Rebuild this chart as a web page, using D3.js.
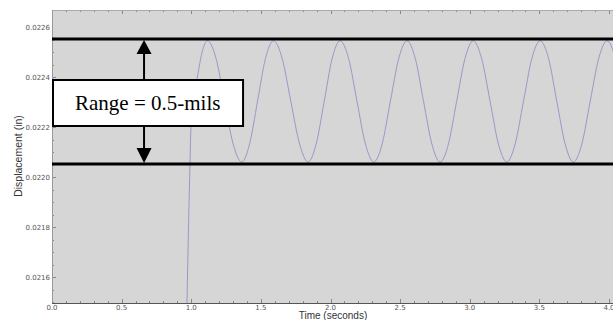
<!DOCTYPE html>
<html>
<head>
<meta charset="utf-8">
<script src="https://cdn.jsdelivr.net/npm/d3@7"></script>
<style>
  body { margin: 0; background: #fff; }
  #space { width: 613px; height: 320px; }
</style>
</head>
<body>
<div id="space"></div>
<script>
// displacement trace (time in s, displacement in in)
var time = [0.962, 0.969, 0.991, 0.998, 1.018, 1.044, 1.078,
    1.116, 1.178, 1.239, 1.301, 1.362, 1.419, 1.476, 1.533,
    1.590, 1.653, 1.715, 1.778, 1.840, 1.897, 1.955, 2.012,
    2.069, 2.130, 2.190, 2.251, 2.311, 2.371, 2.430, 2.490,
    2.549, 2.609, 2.668, 2.728, 2.787, 2.847, 2.906, 2.966,
    3.025, 3.085, 3.146, 3.206, 3.266, 3.326, 3.386, 3.446,
    3.506, 3.566, 3.625, 3.685, 3.744, 3.805, 3.865, 3.926,
    3.986, 4.046, 4.107];
var disp = [0.02130, 0.021496, 0.022056, 0.02220, 0.02232, 0.02240, 0.02250,
    0.022545, 0.022474, 0.022303, 0.022132, 0.022060, 0.022132, 0.022303, 0.022474,
    0.022545, 0.022474, 0.022303, 0.022132, 0.022060, 0.022132, 0.022303, 0.022474,
    0.022545, 0.022474, 0.022303, 0.022132, 0.022060, 0.022132, 0.022303, 0.022474,
    0.022545, 0.022474, 0.022303, 0.022132, 0.022060, 0.022132, 0.022303, 0.022474,
    0.022545, 0.022474, 0.022303, 0.022132, 0.022060, 0.022132, 0.022303, 0.022474,
    0.022545, 0.022474, 0.022303, 0.022132, 0.022060, 0.022132, 0.022303, 0.022474,
    0.022545, 0.022474, 0.022303];

var xTicks = [0.0, 0.5, 1.0, 1.5, 2.0, 2.5, 3.0, 3.5, 4.0];
var yTicks = [0.0216, 0.0218, 0.0220, 0.0222, 0.0224, 0.0226];

// range band lines and annotation
var rangeLines = [0.022552, 0.022052];
var rangeLabel = "Range = 0.5-mils";
var arrowTime = 0.661;
var boxTime = [0.0, 1.372];
var boxDisp = [0.022388, 0.022204];

var svg, x, y;
var p_left = 52, p_top = 10, p_bottom = 303, p_right = 620;

function initSvg() {
    svg = d3.select("#space").append("svg")
        .attr("width", 613)
        .attr("height", 320);

    svg.append("defs").append("clipPath").attr("id", "plotclip")
        .append("rect")
        .attr("x", p_left).attr("y", p_top)
        .attr("width", p_right - p_left).attr("height", p_bottom - p_top);
}

function drawFrame() {
    x = d3.scaleLinear().domain([0, 4.0]).range([p_left, 609]);
    y = d3.scaleLinear().domain([0.0216, 0.0226]).range([277, 27]);

    svg.append("rect")
        .attr("x", p_left).attr("y", p_top)
        .attr("width", p_right - p_left).attr("height", p_bottom - p_top)
        .attr("fill", "#d6d6d6");

    //Minor ticks
    var xMinor = d3.range(1, 41).map(function (d) { return d / 10; });
    var yMinor = d3.range(0, 22).map(function (d) { return 0.02150 + d * 0.00005; });

    var tk = svg.append("g").attr("stroke", "#888").attr("stroke-width", 1);
    tk.selectAll("line.xb").data(xMinor).enter().append("line")
        .attr("x1", function (d) { return Math.round(x(d)) + 0.5; })
        .attr("x2", function (d) { return Math.round(x(d)) + 0.5; })
        .attr("y1", p_bottom)
        .attr("y2", function (d, i) { return p_bottom - ((i + 1) % 5 == 0 ? 4 : 2); });
    tk.selectAll("line.xt").data(xMinor).enter().append("line")
        .attr("x1", function (d) { return Math.round(x(d)) + 0.5; })
        .attr("x2", function (d) { return Math.round(x(d)) + 0.5; })
        .attr("y1", p_top)
        .attr("y2", function (d, i) { return p_top + ((i + 1) % 5 == 0 ? 4 : 2); });
    tk.selectAll("line.yl").data(yMinor.filter(function (d) { return y(d) > p_top && y(d) < p_bottom; }))
        .enter().append("line")
        .attr("x1", p_left)
        .attr("x2", function (d) {
            var major = yTicks.some(function (t) { return Math.abs(t - d) < 1e-7; });
            return p_left + (major ? 4 : 2);
        })
        .attr("y1", function (d) { return Math.round(y(d)) + 0.5; })
        .attr("y2", function (d) { return Math.round(y(d)) + 0.5; });

    //Border lines
    svg.append("line").attr("x1", p_left).attr("x2", p_right).attr("y1", p_top + 0.5).attr("y2", p_top + 0.5)
        .attr("stroke", "#aaa");
    svg.append("line").attr("x1", p_left + 0.5).attr("x2", p_left + 0.5).attr("y1", p_top).attr("y2", p_bottom)
        .attr("stroke", "#999");
    svg.append("line").attr("x1", p_left).attr("x2", p_right).attr("y1", p_bottom + 0.5).attr("y2", p_bottom + 0.5)
        .attr("stroke", "#555");

    //Tick labels
    svg.append("g").selectAll("text").data(xTicks).enter().append("text")
        .attr("x", function (d) { return x(d); })
        .attr("y", p_bottom + 7)
        .attr("text-anchor", "middle")
        .attr("font-family", "DejaVu Sans")
        .attr("font-size", "7")
        .attr("fill", "#555")
        .text(function (d) { return d3.format(".1f")(d); });

    svg.append("g").selectAll("text").data(yTicks).enter().append("text")
        .attr("x", p_left - 2)
        .attr("y", function (d) { return y(d) + 2.5; })
        .attr("text-anchor", "end")
        .attr("font-family", "DejaVu Sans")
        .attr("font-size", "7")
        .attr("fill", "#555")
        .text(function (d) { return d3.format(".4f")(d); });

    //Axis titles
    svg.append("text")
        .attr("x", 333).attr("y", 319)
        .attr("text-anchor", "middle")
        .attr("font-family", "Liberation Sans")
        .attr("font-size", "10")
        .attr("fill", "#333")
        .text("Time (seconds)");

    svg.append("text")
        .attr("transform", "translate(22,156) rotate(-90)")
        .attr("text-anchor", "middle")
        .attr("font-family", "Liberation Sans")
        .attr("font-size", "10.5")
        .attr("fill", "#333")
        .text("Displacement (in)");
}

function drawTrace() {
    var pts = time.map(function (t, i) { return [t, disp[i]]; });
    var line = d3.line()
        .x(function (d) { return x(d[0]); })
        .y(function (d) { return y(d[1]); })
        .curve(d3.curveMonotoneX);

    svg.append("path")
        .datum(pts)
        .attr("clip-path", "url(#plotclip)")
        .attr("d", line)
        .attr("fill", "none")
        .attr("stroke", "#a493c8")
        .attr("stroke-width", 1);
}

function drawAnnotation() {
    var g = svg.append("g");

    g.selectAll("line.range").data(rangeLines).enter().append("line")
        .attr("x1", p_left).attr("x2", p_right)
        .attr("y1", function (d) { return y(d); })
        .attr("y2", function (d) { return y(d); })
        .attr("stroke", "black")
        .attr("stroke-width", 3);

    var ax = x(arrowTime);
    var yTop = y(rangeLines[0]), yBot = y(rangeLines[1]);
    var bx0 = x(boxTime[0]) + 1, bx1 = x(boxTime[1]);
    var by0 = y(boxDisp[0]), by1 = y(boxDisp[1]);

    //Shafts
    g.append("line").attr("x1", ax).attr("x2", ax).attr("y1", yTop + 12).attr("y2", by0)
        .attr("stroke", "black").attr("stroke-width", 2);
    g.append("line").attr("x1", ax).attr("x2", ax).attr("y1", by1).attr("y2", yBot - 12)
        .attr("stroke", "black").attr("stroke-width", 2);

    //Heads
    g.append("path")
        .attr("d", "M" + ax + "," + (yTop + 1) + "L" + (ax - 7.5) + "," + (yTop + 15) + "L" + (ax + 7.5) + "," + (yTop + 15) + "Z")
        .attr("fill", "black");
    g.append("path")
        .attr("d", "M" + ax + "," + (yBot - 1) + "L" + (ax - 7.5) + "," + (yBot - 16) + "L" + (ax + 7.5) + "," + (yBot - 16) + "Z")
        .attr("fill", "black");

    //Label box
    g.append("rect")
        .attr("x", bx0).attr("y", by0)
        .attr("width", bx1 - bx0).attr("height", by1 - by0)
        .attr("fill", "white")
        .attr("stroke", "black")
        .attr("stroke-width", 2);

    g.append("text")
        .attr("x", 75).attr("y", by0 + 30)
        .attr("font-family", "Liberation Serif")
        .attr("font-size", "21")
        .attr("fill", "black")
        .text(rangeLabel);
}

initSvg();
drawFrame();
drawTrace();
drawAnnotation();
</script>
</body>
</html>
